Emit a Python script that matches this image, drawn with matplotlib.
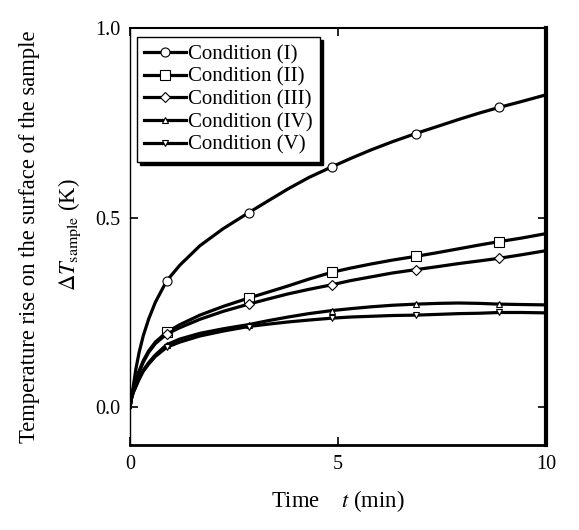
import matplotlib
matplotlib.use("Agg")
import matplotlib.pyplot as plt

plt.rcParams['font.family'] = ['Liberation Serif', 'DejaVu Serif']
plt.rcParams['mathtext.fontset'] = 'stix'

# Time (min)
t = [0, 0.04, 0.08, 0.14, 0.22, 0.32, 0.45, 0.61, 0.88, 1.2, 1.68, 2.24, 2.85, 3.3, 3.8, 4.3,
     4.85, 5.3, 5.8, 6.3, 6.87, 7.4, 7.9, 8.4, 8.88, 9.4, 10]
marker_times = [0.88, 2.85, 4.85, 6.87, 8.88]

cond_I = [0, 0.028, 0.056, 0.10, 0.145, 0.189, 0.233, 0.277, 0.333, 0.375, 0.426, 0.471, 0.513,
          0.543, 0.576, 0.606, 0.634, 0.656, 0.679, 0.700, 0.722, 0.741, 0.759, 0.776, 0.791, 0.806, 0.824]
cond_II = [0, 0.028, 0.048, 0.07, 0.096, 0.123, 0.149, 0.172, 0.198, 0.218, 0.243, 0.266, 0.288,
           0.303, 0.320, 0.338, 0.356, 0.367, 0.378, 0.388, 0.398, 0.408, 0.418, 0.428, 0.437, 0.446, 0.458]
cond_III = [0, 0.027, 0.046, 0.067, 0.093, 0.119, 0.145, 0.168, 0.193, 0.21, 0.232, 0.253, 0.272,
            0.285, 0.299, 0.311, 0.323, 0.334, 0.344, 0.354, 0.363, 0.371, 0.379, 0.386, 0.393, 0.402, 0.413]
cond_IV = [0, 0.025, 0.04, 0.056, 0.076, 0.098, 0.118, 0.138, 0.165, 0.18, 0.195, 0.207, 0.218,
           0.228, 0.238, 0.247, 0.255, 0.26, 0.265, 0.269, 0.272, 0.274, 0.275, 0.274, 0.272, 0.271, 0.270]
cond_V = [0, 0.025, 0.039, 0.054, 0.074, 0.095, 0.114, 0.134, 0.158, 0.172, 0.188, 0.201, 0.213,
          0.219, 0.225, 0.23, 0.235, 0.238, 0.24, 0.242, 0.243, 0.245, 0.247, 0.248, 0.25, 0.25, 0.249]

labels = ['Condition (I)', 'Condition (II)', 'Condition (III)', 'Condition (IV)', 'Condition (V)']
series = [cond_I, cond_II, cond_III, cond_IV, cond_V]
markers = ['o', 's', 'D', '^', 'v']
msizes = [6.5, 6.5, 4.8, 5, 5]

fig = plt.figure(figsize=(5.79, 5.30), dpi=100)
ax = fig.add_axes([0.2245, 0.160, 0.7185, 0.787])

mark_idx = [t.index(m) for m in marker_times]
for y, lab, mk, ms in zip(series, labels, markers, msizes):
    ax.plot(t, y, color='black', lw=2.3, marker=mk, markevery=mark_idx,
            markersize=ms, markerfacecolor='white', markeredgecolor='black',
            markeredgewidth=0.8, label=lab, solid_joinstyle='round')

ax.set_xlim(0, 10)
ax.set_ylim(-0.1, 1.0)
ax.set_xticks([0, 5, 10])
ax.set_xticklabels(['0', '5', '10'])
ax.set_yticks([0.0, 0.5, 1.0])
ax.set_yticklabels(['0.0', '0.5', '1.0'])
ax.tick_params(direction='in', top=True, right=True, length=6, width=1.2,
               labelsize=14.5, pad=7)

ax.spines['left'].set_linewidth(1.0)
ax.spines['top'].set_linewidth(1.5)
ax.spines['right'].set_linewidth(3.0)
ax.spines['bottom'].set_linewidth(2.0)

ax.set_xlabel('Time    $\\mathit{t}$ (min)', fontsize=16.3, labelpad=10)

fig.text(30 / 579, 1 - 237 / 530, 'Temperature rise on the surface of the sample',
         rotation=90, ha='center', va='center', fontsize=16.3)
fig.text(70 / 579, 1 - 235 / 530, '$\\Delta\\mathit{T}_{\\mathrm{sample}}$ (K)',
         rotation=90, ha='center', va='center', fontsize=16.3)

leg = ax.legend(loc='upper left', bbox_to_anchor=(0.017, 0.978), fontsize=15,
                frameon=True, fancybox=False, edgecolor='black',
                handlelength=2.0, handletextpad=0.1, labelspacing=0.15,
                borderpad=0.35, borderaxespad=0.0,
                shadow={'color': 'black', 'alpha': 1, 'ox': 2, 'oy': -2})
leg.get_frame().set_linewidth(1.0)

fig.savefig('out.png', dpi=100)
